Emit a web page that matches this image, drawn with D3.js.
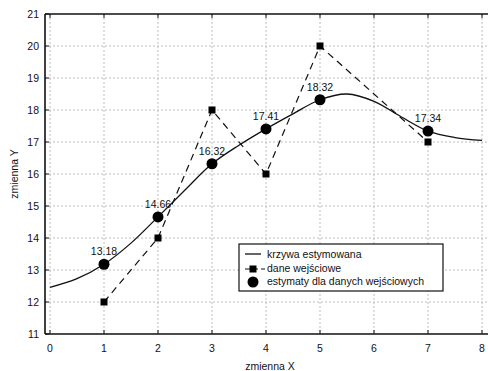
<!DOCTYPE html>
<html>
<head>
<meta charset="utf-8">
<script src="https://cdn.jsdelivr.net/npm/d3@7"></script>
<style>
  body { margin: 0; background: #fff; }
  svg text { font-family: "Liberation Sans", Arial, sans-serif; fill: #111; }
</style>
</head>
<body>
<div id="chart"></div>
<script>
// input data
var inputX = [1, 2, 3, 4, 5, 7];
var inputY = [12, 14, 18, 16, 20, 17];

// estimates at the input points
var estY = [13.18, 14.66, 16.32, 17.41, 18.32, 17.34];

// estimated curve
var curveX = [0, 0.5, 1, 1.5, 2, 2.5, 3, 3.5, 4, 4.5, 5, 5.5, 6, 6.5, 7, 7.5, 8];
var curveY = [12.46, 12.73, 13.18, 13.84, 14.66, 15.5, 16.32, 16.9, 17.41, 17.88, 18.32, 18.5, 18.27, 17.79, 17.34, 17.14, 17.05];

var xTicks = [0, 1, 2, 3, 4, 5, 6, 7, 8];
var yTicks = [11, 12, 13, 14, 15, 16, 17, 18, 19, 20, 21];

var W = 488, H = 371, fs = 10.5;
var svg = d3.select("#chart").append("svg")
  .attr("width", W)
  .attr("height", H);

var x = d3.scaleLinear().domain([0, 8]).range([50, 482]);
var y = d3.scaleLinear().domain([11, 21]).range([334, 14]);
var left = 45, right = 488;

// grid
svg.append("g").selectAll("line")
  .data(xTicks)
  .enter().append("line")
  .attr("x1", function(d) { return x(d); })
  .attr("x2", function(d) { return x(d); })
  .attr("y1", y(21))
  .attr("y2", y(11))
  .attr("stroke", "#bdbdbd")
  .attr("stroke-dasharray", "2,2");

svg.append("g").selectAll("line")
  .data(yTicks.slice(1, -1))
  .enter().append("line")
  .attr("x1", left)
  .attr("x2", right)
  .attr("y1", function(d) { return y(d); })
  .attr("y2", function(d) { return y(d); })
  .attr("stroke", "#bdbdbd")
  .attr("stroke-dasharray", "2,2");

// axes
var axisG = svg.append("g").attr("stroke", "#111").attr("stroke-width", 1.6);
axisG.append("line").attr("x1", left).attr("x2", right).attr("y1", y(11)).attr("y2", y(11));
axisG.append("line").attr("x1", left).attr("x2", right).attr("y1", y(21)).attr("y2", y(21));
axisG.append("line").attr("x1", left).attr("x2", left).attr("y1", y(21)).attr("y2", y(11));

// small inner ticks
var tickG = svg.append("g").attr("stroke", "#111").attr("stroke-width", 1);
xTicks.forEach(function(d) {
  tickG.append("line").attr("x1", x(d)).attr("x2", x(d)).attr("y1", y(11)).attr("y2", y(11) - 4);
  tickG.append("line").attr("x1", x(d)).attr("x2", x(d)).attr("y1", y(21)).attr("y2", y(21) + 4);
});
yTicks.forEach(function(d) {
  tickG.append("line").attr("x1", left).attr("x2", left + 4).attr("y1", y(d)).attr("y2", y(d));
});

// tick labels
svg.append("g").selectAll("text")
  .data(xTicks)
  .enter().append("text")
  .attr("x", function(d) { return x(d); })
  .attr("y", 352)
  .attr("text-anchor", "middle")
  .attr("font-size", fs)
  .text(function(d) { return d; });

svg.append("g").selectAll("text")
  .data(yTicks)
  .enter().append("text")
  .attr("x", 39)
  .attr("y", function(d) { return y(d) + 4; })
  .attr("text-anchor", "end")
  .attr("font-size", fs)
  .text(function(d) { return d; });

// axis titles
svg.append("text")
  .attr("x", 270)
  .attr("y", 370)
  .attr("text-anchor", "middle")
  .attr("font-size", fs)
  .text("zmienna X");

svg.append("text")
  .attr("transform", "translate(18," + (y(16)) + ") rotate(-90)")
  .attr("text-anchor", "middle")
  .attr("font-size", fs)
  .text("zmienna Y");

// estimated curve
var curvePts = curveX.map(function(d, i) { return [d, curveY[i]]; });
svg.append("path")
  .datum(curvePts)
  .attr("fill", "none")
  .attr("stroke", "#111")
  .attr("stroke-width", 1.3)
  .attr("d", d3.line()
    .x(function(d) { return x(d[0]); })
    .y(function(d) { return y(d[1]); })
    .curve(d3.curveCatmullRom));

// input data, dashed
var inputPts = inputX.map(function(d, i) { return [d, inputY[i]]; });
svg.append("path")
  .datum(inputPts)
  .attr("fill", "none")
  .attr("stroke", "#111")
  .attr("stroke-width", 1.2)
  .attr("stroke-dasharray", "7,5")
  .attr("d", d3.line()
    .x(function(d) { return x(d[0]); })
    .y(function(d) { return y(d[1]); }));

svg.append("g").selectAll("rect")
  .data(inputPts)
  .enter().append("rect")
  .attr("x", function(d) { return x(d[0]) - 3.5; })
  .attr("y", function(d) { return y(d[1]) - 3.5; })
  .attr("width", 7)
  .attr("height", 7)
  .attr("fill", "#000");

// estimates
var estPts = inputX.map(function(d, i) { return [d, estY[i]]; });
svg.append("g").selectAll("circle")
  .data(estPts)
  .enter().append("circle")
  .attr("cx", function(d) { return x(d[0]); })
  .attr("cy", function(d) { return y(d[1]); })
  .attr("r", 5.5)
  .attr("fill", "#000");

svg.append("g").selectAll("text")
  .data(estPts)
  .enter().append("text")
  .attr("x", function(d) { return x(d[0]); })
  .attr("y", function(d) { return y(d[1]) - 9; })
  .attr("text-anchor", "middle")
  .attr("font-size", fs)
  .text(function(d) { return d[1].toFixed(2); });

// legend
var lg = svg.append("g").attr("transform", "translate(239,244)");
lg.append("rect")
  .attr("width", 204)
  .attr("height", 47)
  .attr("fill", "#fff")
  .attr("stroke", "#111")
  .attr("stroke-width", 1.2);

lg.append("line").attr("x1", 6).attr("x2", 22).attr("y1", 10).attr("y2", 10)
  .attr("stroke", "#111").attr("stroke-width", 1.3);
lg.append("line").attr("x1", 6).attr("x2", 26).attr("y1", 25).attr("y2", 25)
  .attr("stroke", "#111").attr("stroke-width", 1.2).attr("stroke-dasharray", "5,3");
lg.append("rect").attr("x", 10.5).attr("y", 21.5).attr("width", 7).attr("height", 7).attr("fill", "#000");
lg.append("circle").attr("cx", 14).attr("cy", 38).attr("r", 5.5).attr("fill", "#000");

var legendLabels = ["krzywa estymowana", "dane wejściowe", "estymaty dla danych wejściowych"];
lg.selectAll("text.lbl")
  .data(legendLabels)
  .enter().append("text")
  .attr("class", "lbl")
  .attr("x", 28)
  .attr("y", function(d, i) { return 14 + i * 13.5; })
  .attr("font-size", fs)
  .text(function(d) { return d; });
</script>
</body>
</html>
